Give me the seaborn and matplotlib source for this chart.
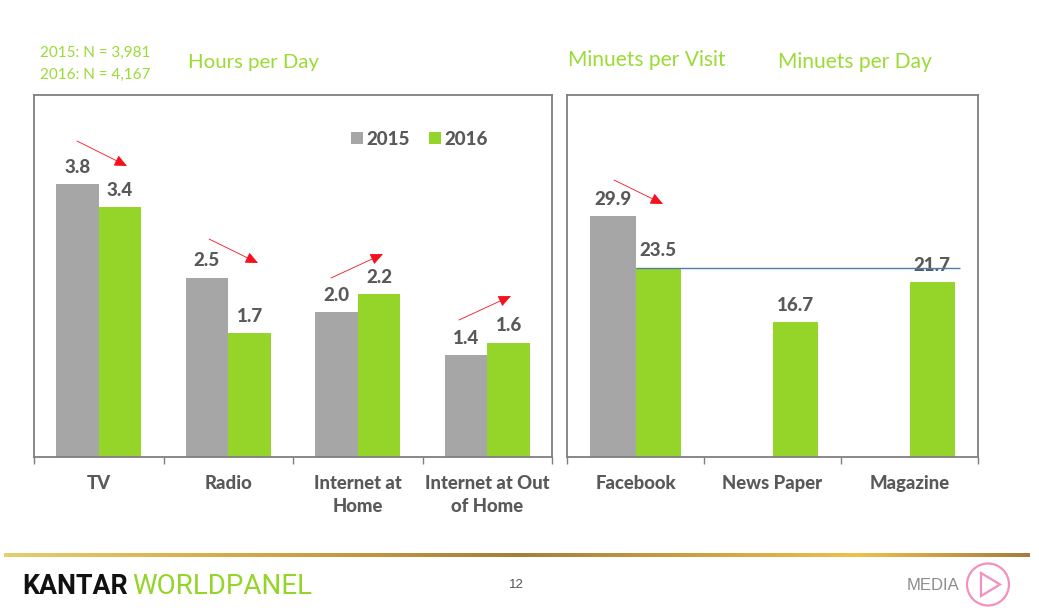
import numpy as np
import pandas as pd
import matplotlib
matplotlib.use("Agg")
import matplotlib.pyplot as plt
from matplotlib.patches import Circle, FancyArrowPatch, Patch, Polygon
import seaborn as sns

# ============================================================
# Data
# ============================================================

media_cats = ["TV", "Radio", "Internet at\nHome", "Internet at Out\nof Home"]
media_2015 = [3.75, 2.46, 1.99, 1.40]
media_2016 = [3.43, 1.70, 2.24, 1.57]

online_cats = ["Facebook", "News Paper", "Magazine"]
online_2015 = [29.9, np.nan, np.nan]
online_2016 = [23.5, 16.7, 21.7]

years = ["2015", "2016"]

GREY = "#A6A6A6"
GREEN = "#95D52A"
TITLE_GREEN = "#9ADB34"
TEXT = "#595959"
FRAME = "#7F7F7F"
W, H = 1039, 614

sns.set_theme(style="white")
plt.rcParams["font.family"] = ["Lato", "DejaVu Sans"]


def long_table(cats, v15, v16):
    return pd.DataFrame({
        "cat": cats * 2,
        "year": ["2015"] * len(cats) + ["2016"] * len(cats),
        "value": list(v15) + list(v16),
    })


def box(x0, y0, x1, y1):
    # pixel box (top-left origin) to figure fractions
    return [x0 / W, 1 - y1 / H, (x1 - x0) / W, (y1 - y0) / H]


def fx(x, y):
    return (x / W, 1 - y / H)


def draw_panel(ax, df, cats, ymax):
    sns.barplot(data=df, x="cat", y="value", hue="year", order=cats,
                hue_order=years, palette=[GREY, GREEN], width=0.66,
                dodge=True, saturation=1, linewidth=0, ax=ax, legend=False)
    for cont in ax.containers:
        ax.bar_label(cont, fmt="%.1f", padding=6, fontsize=13.5,
                     fontweight=900, color=TEXT)
    ax.set_xlim(-0.5, len(cats) - 0.5)
    ax.set_ylim(0, ymax)
    ax.set_xlabel("")
    ax.set_ylabel("")
    ax.set_yticks([])
    # ticks sit between the categories, labels stay centred
    ax.set_xticks(np.arange(len(cats) + 1) - 0.5, minor=True)
    ax.tick_params(axis="x", which="minor", length=5, width=1, color=FRAME,
                   bottom=True)
    ax.tick_params(axis="x", which="major", length=0, pad=13, labelsize=13.3,
                   labelcolor=TEXT)
    for lab in ax.get_xticklabels():
        lab.set_fontweight(900)
        lab.set_linespacing(1.45)
    for sp in ax.spines.values():
        sp.set_visible(True)
        sp.set_color(FRAME)
        sp.set_linewidth(1.3)


fig = plt.figure(figsize=(W / 100, H / 100), dpi=100, facecolor="white")

# ============================================================
# Left panel
# ============================================================

ax1 = fig.add_axes(box(34, 95, 552, 457))
draw_panel(ax1, long_table(media_cats, media_2015, media_2016), media_cats, 4.97)

handles = [Patch(color=c, lw=0) for c in [GREY, GREEN]]
leg = ax1.legend(handles, years, ncol=2, frameon=False, loc="center",
                 bbox_to_anchor=(0.744, 0.878), handlelength=0.65,
                 handleheight=0.65, handletextpad=0.2, columnspacing=1.0,
                 prop={"weight": 900, "size": 13.5})
for t in leg.get_texts():
    t.set_color(TEXT)

# ============================================================
# Right panel
# ============================================================

ax2 = fig.add_axes(box(567, 95, 978, 457))
draw_panel(ax2, long_table(online_cats, online_2015, online_2016), online_cats, 44.9)
ax2.hlines(online_2016[0], 0, 2.37, color="#4F7FA8", lw=1, zorder=5)

# ============================================================
# Trend arrows and headings
# ============================================================

arrows = [((77, 141), (127, 166)), ((209, 239), (258, 263)),
          ((331, 278), (383, 254)), ((459, 320), (511, 296)),
          ((614, 180), (663, 204))]
for start, end in arrows:
    fig.add_artist(FancyArrowPatch(
        fx(*start), fx(*end), transform=fig.transFigure, color="#F5101E",
        lw=0.6, arrowstyle="-|>,head_length=0.55,head_width=0.25",
        mutation_scale=14, shrinkA=0, shrinkB=0))

fig.text(40 / W, 1 - 52.5 / H, "2015: N = 3,981", color=TITLE_GREEN, fontsize=11, va="center")
fig.text(40 / W, 1 - 74.5 / H, "2016: N = 4,167", color=TITLE_GREEN, fontsize=11, va="center")
fig.text(188 / W, 1 - 62.5 / H, "Hours per Day", color=TITLE_GREEN, fontsize=14.7, va="center")
fig.text(568 / W, 1 - 59.5 / H, "Minuets per Visit", color=TITLE_GREEN, fontsize=15.1, va="center")
fig.text(778 / W, 1 - 62.5 / H, "Minuets per Day", color=TITLE_GREEN, fontsize=15.1, va="center")

# ============================================================
# Footer
# ============================================================

gold = matplotlib.colors.LinearSegmentedColormap.from_list(
    "gold", ["#E3CF6E", "#D9B44F", "#C49A3E", "#A67E3A", "#C9A040", "#F0C04A", "#A47C3E"])
ax3 = fig.add_axes(box(4, 553, 1030, 557))
ax3.imshow(np.linspace(0, 1, 256)[None, :], cmap=gold, aspect="auto")
ax3.axis("off")

fig.text(22 / W, 1 - 586 / H, "KANTAR", color="#111111", fontsize=19.3,
         fontweight="bold", va="center", family=["Roboto", "DejaVu Sans"])
fig.text(132 / W, 1 - 586 / H, "WORLDPANEL", color=GREEN, fontsize=20,
         va="center", family=["Roboto", "DejaVu Sans"])
fig.text(516 / W, 1 - 585 / H, "12", color="#555555", fontsize=9.5, ha="center",
         va="center", family=["Liberation Sans"])
fig.text(907 / W, 1 - 586 / H, "MEDIA", color="#8C8C8C", fontsize=12, va="center",
         family=["Liberation Sans"])

ax4 = fig.add_axes(box(960, 560, 1016, 610))
ax4.set_xlim(960, 1016)
ax4.set_ylim(610, 560)
ax4.axis("off")
ax4.add_patch(Circle((988, 584.5), 21, fill=False, ec="#F48FBF", lw=1.6))
ax4.add_patch(Polygon([(981, 573), (981, 596), (1000, 584.5)], closed=True,
                      fill=False, ec="#F48FBF", lw=1.6))

fig.savefig("out.png", dpi=100)
